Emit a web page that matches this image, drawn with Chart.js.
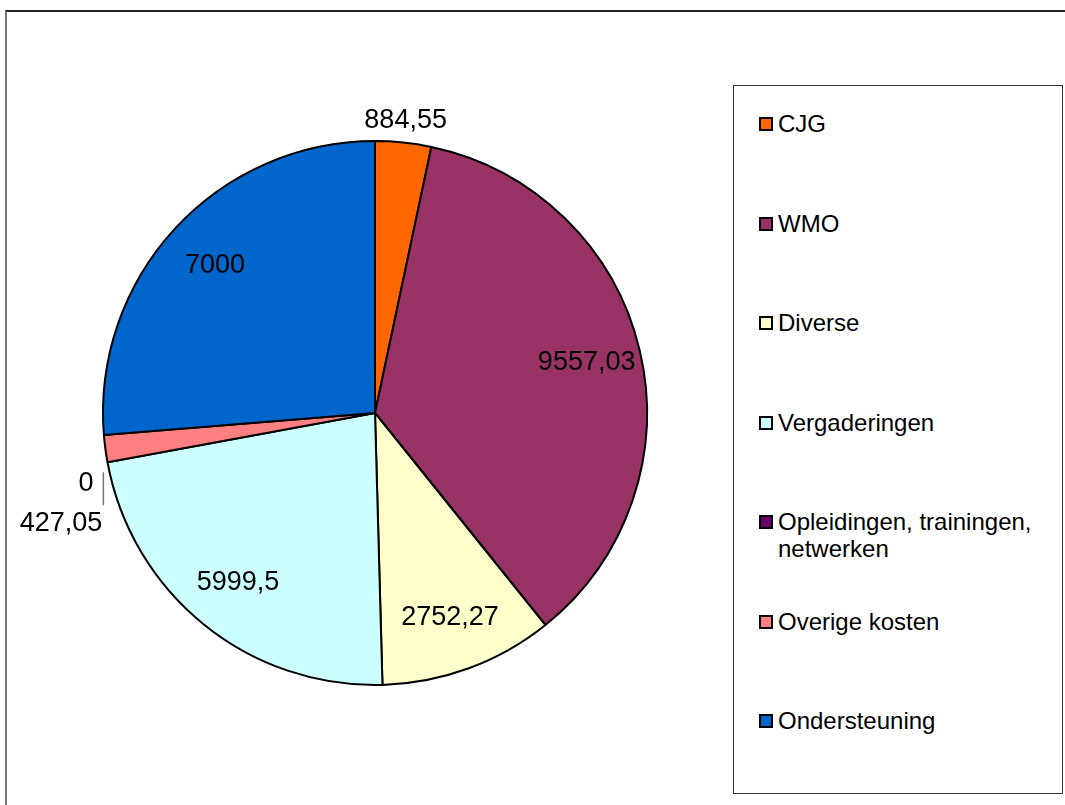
<!DOCTYPE html>
<html>
<head>
<meta charset="utf-8">
<script src="https://cdn.jsdelivr.net/npm/chart.js@4/dist/chart.umd.min.js"></script>
<style>
    html, body { margin: 0; padding: 0; background: #fff; }
    body { width: 1065px; height: 805px; position: relative; overflow: hidden; font-family: "Liberation Sans", Arial, sans-serif; }
    #frame { position: absolute; left: 5px; top: 10px; width: 1080px; height: 820px; border-top: 2px solid #222; border-left: 2px solid #777; }
    #chartBox { position: absolute; left: 0; top: 0; width: 750px; height: 805px; }
    #legend { position: absolute; left: 733px; top: 85px; width: 330px; height: 709px; border: 1px solid #333; box-sizing: border-box; padding-top: 24px; background: #fff; }
    .item { height: 99.5px; position: relative; }
    .swatch { position: absolute; left: 25px; top: 7px; width: 10px; height: 10px; border: 2px solid #000; }
    .txt { position: absolute; left: 44px; top: 0; width: 275px; font-size: 24px; line-height: 27px; color: #000; }
</style>
</head>
<body>
<div id="frame"></div>
<div id="chartBox"><canvas id="pieChart"></canvas></div>
<div id="legend"></div>
<script>
// Categorieen en bedragen
const categories = ['CJG', 'WMO', 'Diverse', 'Vergaderingen', 'Opleidingen, trainingen, netwerken', 'Overige kosten', 'Ondersteuning'];
const amounts = [884.55, 9557.03, 2752.27, 5999.5, 0, 427.05, 7000];
const sliceColors = ['#FF6600', '#993366', '#FFFFCC', '#CCFFFF', '#660066', '#FF8080', '#0066CC'];

// Nederlandse notatie met komma
const amountLabels = amounts.map(v => String(v).replace('.', ','));

// Legenda in HTML
const legendEl = document.getElementById('legend');
categories.forEach((cat, i) => {
    const item = document.createElement('div');
    item.className = 'item';
    item.innerHTML = '<span class="swatch" style="background:' + sliceColors[i] + '"></span><span class="txt">' + cat + '</span>';
    legendEl.appendChild(item);
});

// Plugin voor de waardelabels
const valueLabelPlugin = {
    id: 'valueLabels',
    afterDatasetsDraw(chart) {
        const ctx = chart.ctx;
        const meta = chart.getDatasetMeta(0);
        const total = amounts.reduce((a, b) => a + b, 0);
        let lastLeftY = -Infinity;

        ctx.save();
        ctx.font = '27px "Liberation Sans", Arial, sans-serif';
        ctx.fillStyle = '#000';
        ctx.textBaseline = 'middle';

        meta.data.forEach((arc, i) => {
            const p = arc.getProps(['x', 'y', 'startAngle', 'endAngle', 'outerRadius'], true);
            const mid = (p.startAngle + p.endAngle) / 2;
            const frac = amounts[i] / total;
            const text = amountLabels[i];

            if (frac >= 0.05) {
                // binnen de taartpunt
                const r = p.outerRadius * 0.8;
                ctx.textAlign = 'center';
                ctx.fillText(text, p.x + Math.cos(mid) * r, p.y + Math.sin(mid) * r);
                return;
            }

            const px = p.x + Math.cos(mid) * p.outerRadius;
            const py = p.y + Math.sin(mid) * p.outerRadius;
            if (px >= p.x) {
                const r = p.outerRadius + 22;
                ctx.textAlign = 'center';
                ctx.fillText(text, p.x + Math.cos(mid) * r, p.y + Math.sin(mid) * r);
            } else {
                let ty = py + 21;
                let tx = px - 14;
                if (lastLeftY + 40 > ty) {
                    ty = lastLeftY + 40;
                    tx = px - 3;
                    // verbindingslijn
                    ctx.strokeStyle = '#777';
                    ctx.lineWidth = 1.5;
                    ctx.beginPath();
                    ctx.moveTo(tx + 1, ty - 51);
                    ctx.lineTo(tx + 1, ty - 18);
                    ctx.stroke();
                }
                ctx.textAlign = 'right';
                ctx.fillText(text, tx, ty);
                lastLeftY = ty;
            }
        });
        ctx.restore();
    }
};

const ctx = document.getElementById('pieChart').getContext('2d');
new Chart(ctx, {
    type: 'pie',
    data: {
        labels: categories,
        datasets: [{
            data: amounts,
            backgroundColor: sliceColors,
            borderColor: '#000',
            borderWidth: 2
        }]
    },
    options: {
        responsive: true,
        maintainAspectRatio: false,
        animation: false,
        layout: {
            padding: { left: 102, right: 102, top: 140, bottom: 119 }
        },
        plugins: {
            legend: { display: false },
            tooltip: { enabled: false }
        }
    },
    plugins: [valueLabelPlugin]
});
</script>
</body>
</html>
